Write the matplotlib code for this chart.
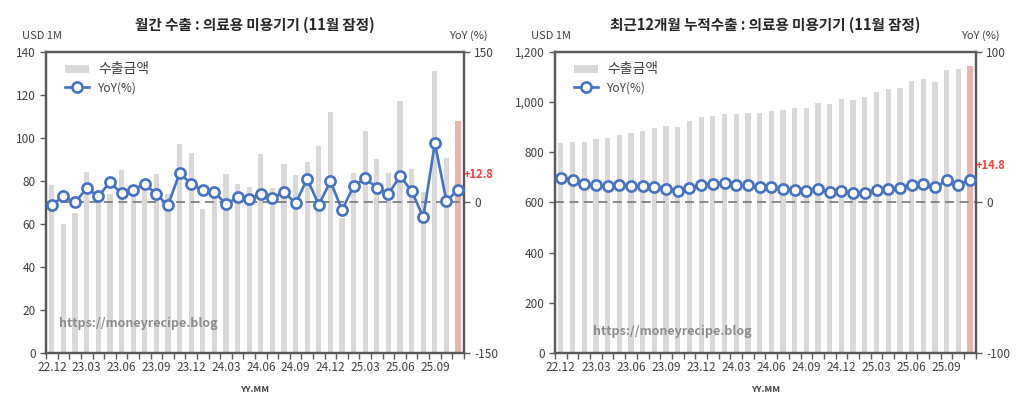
import numpy as np
import matplotlib
matplotlib.use("Agg")
import matplotlib.pyplot as plt
from matplotlib.ticker import FuncFormatter, FixedLocator

plt.rcParams['font.family'] = ['Noto Sans CJK KR', 'DejaVu Sans']

# 22.12 ~ 25.11
months = ['22.12', '23.01', '23.02', '23.03', '23.04', '23.05', '23.06', '23.07', '23.08', '23.09',
          '23.10', '23.11', '23.12', '24.01', '24.02', '24.03', '24.04', '24.05', '24.06', '24.07',
          '24.08', '24.09', '24.10', '24.11', '24.12', '25.01', '25.02', '25.03', '25.04', '25.05',
          '25.06', '25.07', '25.08', '25.09', '25.10', '25.11']

monthly_export = [78, 60, 65, 84, 74, 74, 85, 76, 79, 83,
                  74, 97, 93, 67, 72, 83, 78.5, 77, 92.5, 76.5,
                  88, 82.5, 89, 96, 112, 62.5, 83.5, 103, 90, 83.5,
                  117, 85.5, 75, 131, 90.5, 108]
monthly_yoy = [-2.5, 6, 0, 14, 6, 20, 9, 12.5, 18.5, 8,
               -3, 29, 18.5, 12, 10.5, -2, 5, 3, 8.5, 4.5,
               10.5, -1, 23.5, -2.5, 21, -7.5, 16, 24, 14.5, 8.5,
               26, 11.5, -15, 59, 1, 12.8]

cum_export = [838, 841, 842, 852, 857, 869, 877, 885, 898, 905,
              902, 925, 940, 946, 952, 952, 956, 958, 966, 969,
              977, 977, 995, 993, 1013, 1009, 1018, 1038, 1051, 1057,
              1082, 1090, 1078, 1127, 1130, 1142]
cum_yoy = [16.5, 14.7, 12.1, 11.4, 11, 11.6, 11, 11, 10.1, 9.2,
           7.8, 9.4, 11.6, 12.3, 12.7, 11.4, 11.4, 9.9, 9.9, 9.2,
           8.5, 7.8, 9.2, 7, 7.3, 6.3, 6.5, 8.5, 9.2, 9.6,
           11.6, 12.1, 9.9, 14.7, 11.8, 14.8]

BAR = '#d9d9d9'
BAR_LAST = '#e8b4b0'
LINE = '#4472c4'
FRAME = '#595959'
TXT = '#404040'


def draw(rect, title, bars, yoy, ymax, ystep, y2lim, y2ticks, fmt, label):
    ax = fig.add_axes(rect)
    x = np.arange(len(bars))
    colors = [BAR] * (len(bars) - 1) + [BAR_LAST]
    b = ax.bar(x, bars, width=0.45, color=colors, label='수출금액', zorder=1)
    ax.set_xlim(-0.5, len(bars) - 0.5)
    ax.set_ylim(0, ymax)
    ax.set_yticks(np.arange(0, ymax + 1, ystep))
    ax.yaxis.set_major_formatter(FuncFormatter(fmt))
    ax.set_xticks(x[::3])
    ax.set_xticklabels(months[::3])
    ax.xaxis.set_minor_locator(FixedLocator(np.arange(-0.5, len(bars), 1)))
    ax.tick_params(axis='x', which='major', length=0, pad=6, labelsize=8.5, colors=TXT)
    ax.tick_params(axis='x', which='minor', length=4, width=1, color=FRAME, direction='out')
    ax.tick_params(axis='y', length=4, width=1, color=FRAME, labelsize=8.5, labelcolor=TXT)
    for s in ax.spines.values():
        s.set_color(FRAME)
        s.set_linewidth(1.6)

    ax2 = ax.twinx()
    ax2.set_ylim(*y2lim)
    ax2.set_yticks(y2ticks)
    ax2.yaxis.set_major_formatter(FuncFormatter(lambda v, p: f'{v:.0f}'))
    ax2.axhline(0, color='#808080', lw=1.3, ls=(0, (5, 3)), zorder=1)
    ln, = ax2.plot(x, yoy, color=LINE, lw=1.9, marker='o', ms=7.3, mfc='white',
                   mec=LINE, mew=1.9, label='YoY(%)', zorder=3)
    ax2.tick_params(axis='y', length=4, width=1, color=FRAME, labelsize=8.5, labelcolor=TXT)
    for s in ax2.spines.values():
        s.set_color(FRAME)
        s.set_linewidth(1.6)
    ax2.annotate(label, (x[-1], yoy[-1]), xytext=(4, 6), textcoords='offset points',
                 color='#ff3b3b', fontsize=8, fontweight='bold', ha='left', va='bottom')

    leg = ax.legend([b, ln], ['수출금액', 'YoY(%)'], loc='upper left', frameon=False,
                    fontsize=8.5, bbox_to_anchor=(0.02, 1.0), handlelength=2.0,
                    labelspacing=0.4, labelcolor=TXT)
    leg.get_texts()[0].set_fontsize(10)
    ax.set_title(title, fontsize=10.5, fontweight='bold', color='#262626', pad=16)
    ax.text(-0.01, 1.035, 'USD 1M', transform=ax.transAxes, ha='center', va='bottom',
            fontsize=8, color=TXT)
    ax.text(1.01, 1.035, 'YoY (%)', transform=ax.transAxes, ha='center', va='bottom',
            fontsize=8, color=TXT)
    ax.text(0.5, -0.105, 'YY.MM', transform=ax.transAxes, ha='center', va='top',
            fontsize=6.5, fontweight='bold', color=TXT)
    return ax


fig = plt.figure(figsize=(10.24, 4.08), dpi=100)

axl = draw([0.045, 0.135, 0.408, 0.738], '월간 수출 : 의료용 미용기기 (11월 잠정)',
           monthly_export, monthly_yoy, 140, 20, (-150, 150), [-150, 0, 150],
           lambda v, p: f'{v:.0f}', '+12.8')
axl.text(0.03, 0.085, 'https://moneyrecipe.blog', transform=axl.transAxes,
         fontsize=9, fontweight='bold', color='#8c8c8c', zorder=5)

axr = draw([0.542, 0.135, 0.411, 0.738], '최근12개월 누적수출 : 의료용 미용기기 (11월 잠정)',
           cum_export, cum_yoy, 1200, 200, (-100, 100), [-100, 0, 100],
           lambda v, p: f'{v:,.0f}', '+14.8')
axr.text(0.09, 0.06, 'https://moneyrecipe.blog', transform=axr.transAxes,
         fontsize=9, fontweight='bold', color='#8c8c8c', zorder=5)

fig.savefig('out.png', dpi=100)
